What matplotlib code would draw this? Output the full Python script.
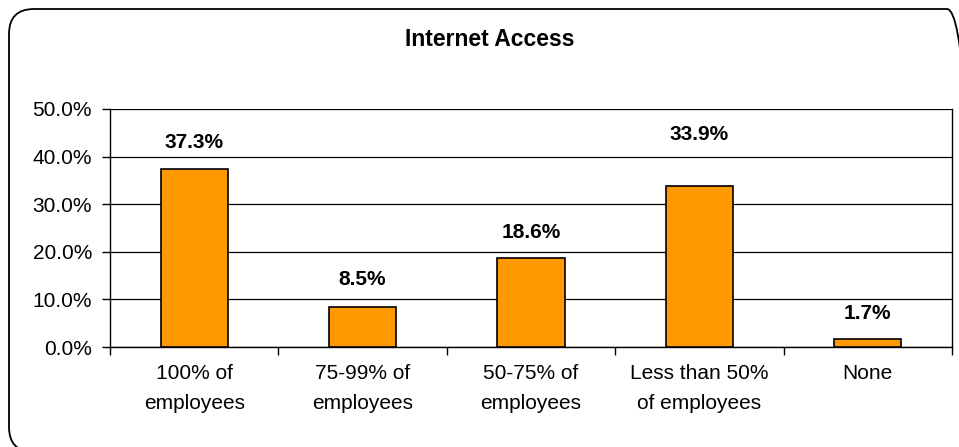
import matplotlib.pyplot as plt
from matplotlib.patches import FancyBboxPatch
import numpy as np

plt.rcParams['font.family'] = ['Liberation Sans', 'DejaVu Sans']

categories = ["100% of\nemployees", "75-99% of\nemployees", "50-75% of\nemployees",
              "Less than 50%\nof employees", "None"]
values = [37.3, 8.5, 18.6, 33.9, 1.7]
yticks = [0, 10, 20, 30, 40, 50]
# label offsets above each bar, in points
label_offsets = [19.5, 19.5, 19, 37, 18]

fig = plt.figure(figsize=(9.59, 4.47), dpi=100)

# rounded frame around the whole chart (runs off the right and bottom edges)
frame = FancyBboxPatch((0.09 + 0.25, -0.05 + 0.25), 9.63 - 0.5, 4.43 - 0.5,
                       boxstyle="round,pad=0.25", transform=fig.dpi_scale_trans,
                       facecolor="none", edgecolor="black", linewidth=1.3,
                       zorder=-1)
fig.patches.append(frame)

ax = fig.add_axes([0.1147, 0.2237, 0.878, 0.5325])
ax.set_facecolor("none")

x = np.arange(len(values))
ax.bar(x, values, width=0.4, color="#FF9900", edgecolor="black", linewidth=1.2, zorder=3)

for xi, v, off in zip(x, values, label_offsets):
    ax.annotate("%.1f%%" % v, (xi, v), xytext=(0, off), textcoords="offset points",
                ha="center", va="center", fontsize=15, fontweight="bold")

ax.set_xlim(-0.5, len(values) - 0.5)
ax.set_ylim(0, 50)
ax.set_yticks(yticks)
ax.set_yticklabels(["%.1f%%" % t for t in yticks], fontsize=15)
ax.yaxis.grid(True, color="black", linewidth=0.9, zorder=0)

ax.set_xticks(x)
ax.set_xticklabels(categories, fontsize=15, linespacing=1.75)
ax.tick_params(axis="x", length=0, pad=12)
ax.set_xticks(np.arange(len(values) + 1) - 0.5, minor=True)
ax.tick_params(axis="x", which="minor", length=6, width=1, direction="out")
ax.tick_params(axis="y", length=6, width=1, direction="out", pad=7)

for s in ax.spines.values():
    s.set_color("black")
    s.set_linewidth(1)
ax.spines["top"].set_visible(False)

fig.text(0.511, 0.912, "Internet Access", ha="center", va="center",
         fontsize=16.5, fontweight="bold")

fig.savefig("out.png", dpi=100)
